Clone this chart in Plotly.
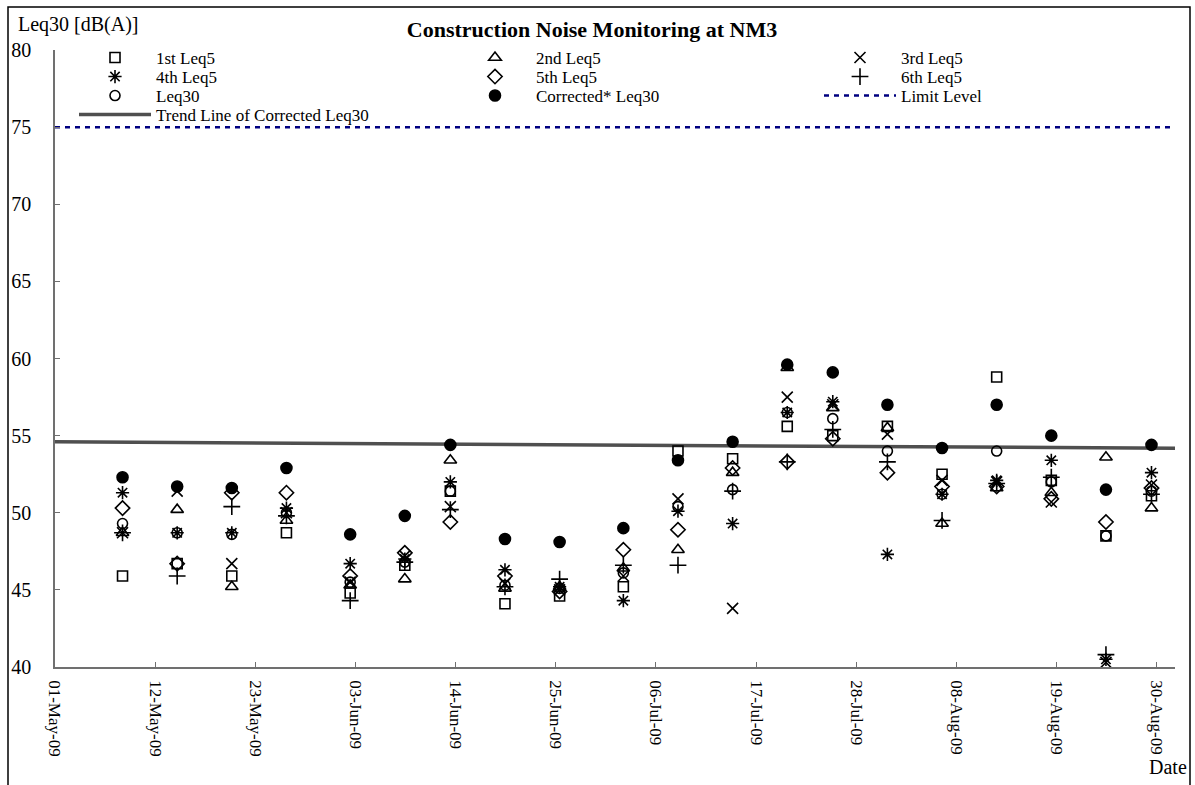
import plotly.graph_objects as go

# Monitoring dates (sampling time of day ~10:00)
dates = [
    "2009-05-08 10:00", "2009-05-14 10:00", "2009-05-20 10:00", "2009-05-26 10:00",
    "2009-06-02 10:00", "2009-06-08 10:00", "2009-06-13 10:00", "2009-06-19 10:00",
    "2009-06-25 10:00", "2009-07-02 10:00", "2009-07-08 10:00", "2009-07-14 10:00",
    "2009-07-20 10:00", "2009-07-25 10:00", "2009-07-31 10:00", "2009-08-06 10:00",
    "2009-08-12 10:00", "2009-08-18 10:00", "2009-08-24 10:00", "2009-08-29 10:00",
]

leq5_1 = [45.9, 46.7, 45.9, 48.7, 44.8, 46.6, 51.4, 44.1, 44.6, 45.2,
          54.0, 53.5, 55.6, 55.0, 55.6, 52.5, 58.8, 52.1, 48.5, 51.1]
leq5_2 = [48.7, 50.2, 45.2, 49.5, 45.3, 45.7, 53.4, 45.1, 45.2, 46.4,
          47.6, 52.6, 59.4, 56.8, 55.5, 49.3, 51.6, 51.3, 53.6, 50.3]
leq5_3 = [48.7, 51.4, 46.7, 50.0, 45.5, 47.2, 50.4, 45.4, 45.0, 45.9,
          50.9, 43.8, 57.5, 57.0, 55.1, 52.1, 52.0, 50.7, 40.3, 51.8]
leq5_4 = [51.3, 48.7, 48.7, 50.3, 46.7, 47.0, 52.0, 46.3, 45.2, 44.3,
          50.1, 49.3, 56.5, 57.2, 47.3, 51.2, 52.1, 53.4, 40.5, 52.6]
leq5_5 = [50.3, 46.7, 51.3, 51.3, 45.9, 47.4, 49.4, 45.9, 44.9, 47.6,
          48.9, 52.9, 53.3, 54.8, 52.6, 51.7, 51.7, 50.9, 49.4, 51.6]
leq5_6 = [48.7, 45.9, 50.4, 49.8, 44.3, 46.8, 50.2, 45.2, 45.7, 46.6,
          46.6, 51.4, 53.3, 55.4, 53.3, 49.5, 51.9, 52.3, 40.8, 51.2]
leq30 = [49.3, 48.7, 48.6, 50.0, 45.5, 46.8, 51.4, 45.3, 45.1, 46.1,
         50.4, 51.5, 56.5, 56.1, 54.0, 51.2, 54.0, 52.0, 48.5, 51.4]
corrected_leq30 = [52.3, 51.7, 51.6, 52.9, 48.6, 49.8, 54.4, 48.3, 48.1, 49.0,
                   53.4, 54.6, 59.6, 59.1, 57.0, 54.2, 57.0, 55.0, 51.5, 54.4]

# Reference lines
line_dates = ["2009-05-01", "2009-09-01"]
limit_level = [75, 75]
trend_level = [54.6, 54.18]

# Axis ticks every 11 days
tick_dates = ["2009-05-01", "2009-05-12", "2009-05-23", "2009-06-03", "2009-06-14",
              "2009-06-25", "2009-07-06", "2009-07-17", "2009-07-28", "2009-08-08",
              "2009-08-19", "2009-08-30"]
tick_labels = ["01-May-09", "12-May-09", "23-May-09", "03-Jun-09", "14-Jun-09",
               "25-Jun-09", "06-Jul-09", "17-Jul-09", "28-Jul-09", "08-Aug-09",
               "19-Aug-09", "30-Aug-09"]

FONT = "Liberation Serif"
W, H = 1195, 785
L, R, T, B = 55, 20, 50, 118
PW, PH = W - L - R, H - T - B


def px_x(x):
    return (x - L) / PW


def px_y(y):
    return (H - B - y) / PH


fig = go.Figure()

# trend and limit lines first so the markers sit on top of them
fig.add_trace(go.Scatter(
    x=line_dates, y=trend_level, mode="lines", name="Trend Line of Corrected Leq30",
    line=dict(color="#4f4f4f", width=3.5), legend="legend4", legendwidth=300,
))
fig.add_trace(go.Scatter(
    x=line_dates, y=limit_level, mode="lines", name="Limit Level",
    line=dict(color="#000080", width=2.5, dash="5px,5px"),
    legend="legend3", legendrank=9, legendwidth=120,
))

# (name, values, symbol, size, legend row, column width)
series = [
    ("1st Leq5", leq5_1, "square-open", 10, "legend", 293),
    ("2nd Leq5", leq5_2, "triangle-up-open", 11, "legend", 278),
    ("3rd Leq5", leq5_3, "x-thin-open", 11, "legend", 120),
    ("4th Leq5", leq5_4, "asterisk-open", 11, "legend2", 293),
    ("5th Leq5", leq5_5, "diamond-open", 11, "legend2", 278),
    ("6th Leq5", leq5_6, "cross-thin-open", 12, "legend2", 120),
    ("Leq30", leq30, "circle-open", 10, "legend3", 293),
    ("Corrected* Leq30", corrected_leq30, "circle", 11, "legend3", 278),
]
for rank, (name, vals, sym, size, leg, lw) in enumerate(series, start=1):
    fig.add_trace(go.Scatter(
        x=dates, y=vals, mode="markers", name=name, legend=leg, legendrank=rank,
        legendwidth=lw,
        marker=dict(symbol=sym, size=size, color="black",
                    line=dict(color="black", width=1.6)),
    ))

legend_style = dict(orientation="h", x=px_x(74), xanchor="left", yanchor="middle",
                    bgcolor="rgba(0,0,0,0)", itemwidth=72,
                    font=dict(family=FONT, size=17, color="black"))
row_y = [58, 77, 96, 115]

fig.update_layout(
    width=W, height=H,
    margin=dict(l=L, r=R, t=T, b=B),
    paper_bgcolor="white", plot_bgcolor="white",
    font=dict(family=FONT, size=17, color="black"),
    title=dict(text="<b>Construction Noise Monitoring at NM3</b>",
               x=592 / W, xanchor="center", xref="container",
               y=1 - 29 / H, yanchor="middle", yref="container",
               font=dict(family=FONT, size=22, color="black")),
    legend=dict(legend_style, y=px_y(row_y[0])),
    legend2=dict(legend_style, y=px_y(row_y[1])),
    legend3=dict(legend_style, y=px_y(row_y[2])),
    legend4=dict(legend_style, y=px_y(row_y[3])),
    showlegend=True,
)

fig.update_xaxes(
    type="date", range=["2009-05-01", "2009-09-01"],
    tickmode="array", tickvals=tick_dates, ticktext=tick_labels, tickangle=90,
    ticks="inside", ticklen=5, tickcolor="#707070",
    showline=True, linecolor="#707070", linewidth=1.5,
    showgrid=False, zeroline=False, ticklabelstandoff=8,
    tickfont=dict(family=FONT, size=17, color="black"),
)
fig.update_yaxes(
    range=[40, 80], dtick=5, tick0=40,
    ticks="inside", ticklen=5, tickcolor="#707070",
    showline=True, linecolor="#707070", linewidth=1.5,
    showgrid=False, zeroline=False, ticklabelstandoff=18,
    tickfont=dict(family=FONT, size=20, color="black"),
)

fig.add_annotation(text="Leq30 [dB(A)]", xref="paper", yref="paper",
                   x=px_x(16), y=px_y(25), xanchor="left", yanchor="middle",
                   showarrow=False, font=dict(family=FONT, size=20, color="black"))
fig.add_annotation(text="Date", xref="paper", yref="paper",
                   x=px_x(1189), y=px_y(767), xanchor="right", yanchor="middle",
                   showarrow=False, font=dict(family=FONT, size=20, color="black"))

# chart border
fig.add_shape(type="rect", xref="paper", yref="paper",
              x0=px_x(8), x1=px_x(1190), y0=px_y(H + 20), y1=px_y(7),
              line=dict(color="black", width=1.5), fillcolor="rgba(0,0,0,0)", layer="below")

fig.write_html("out.html")
